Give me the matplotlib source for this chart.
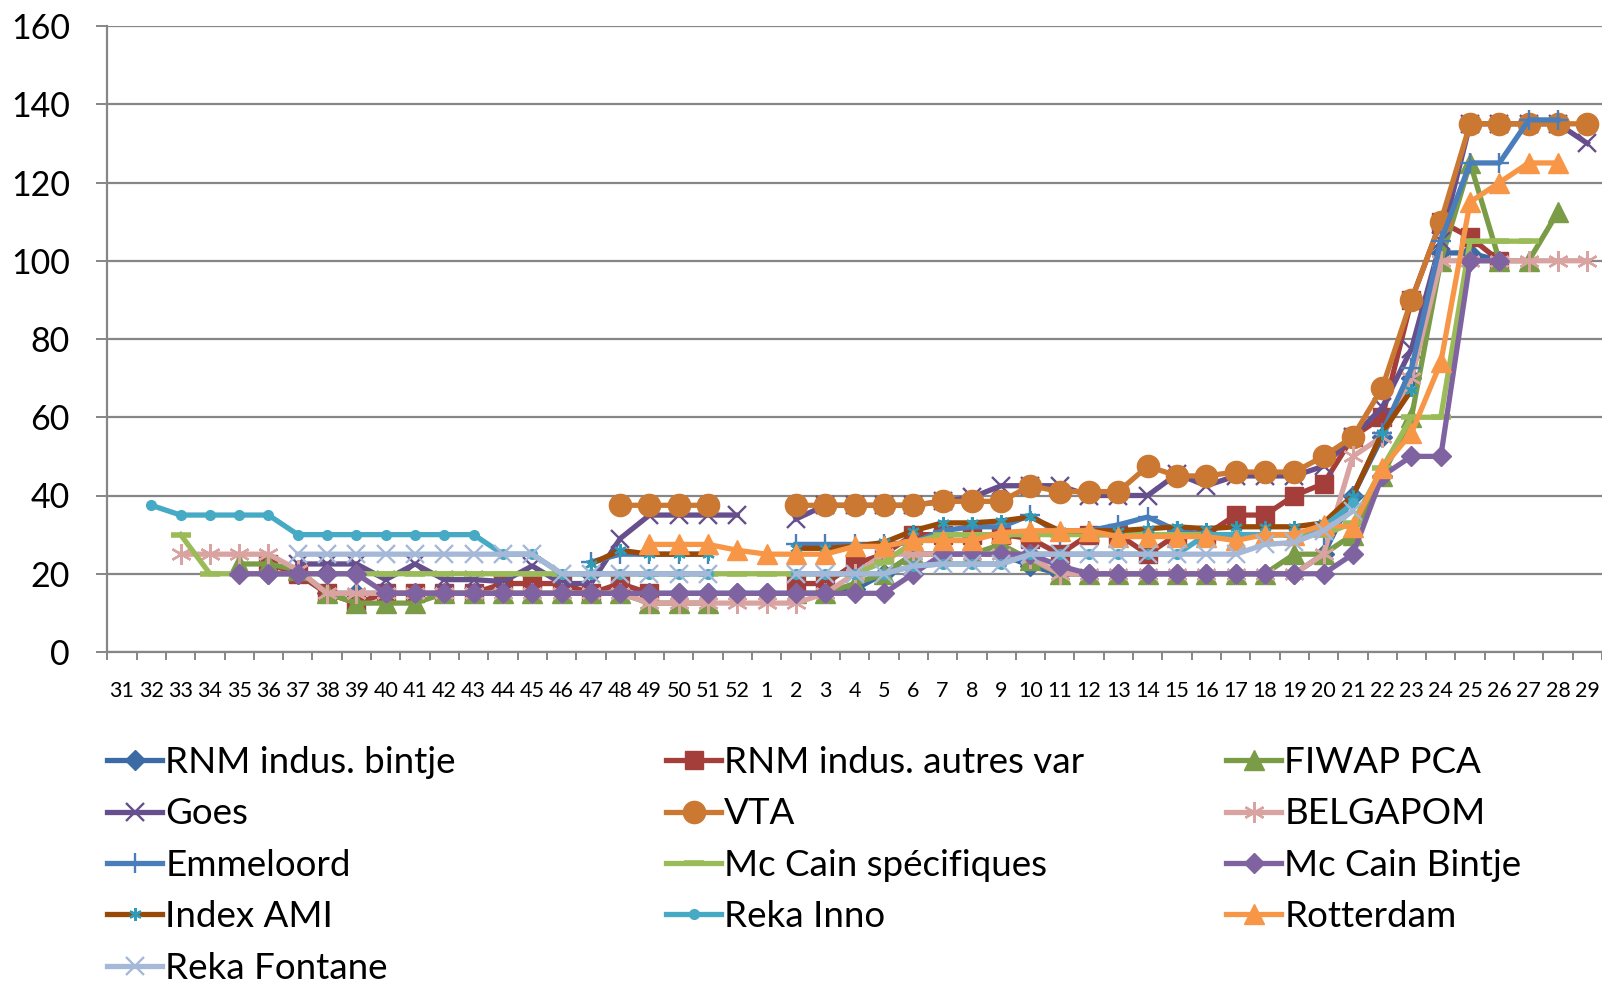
import numpy as np
import matplotlib
matplotlib.use("Agg")
import matplotlib.pyplot as plt

plt.rcParams["font.family"] = ["Lato", "DejaVu Sans"]

# ========= data =========
N = None
WEEKS = ["31", "32", "33", "34", "35", "36", "37", "38", "39", "40", "41", "42",
         "43", "44", "45", "46", "47", "48", "49", "50", "51", "52",
         "1", "2", "3", "4", "5", "6", "7", "8", "9", "10", "11", "12", "13",
         "14", "15", "16", "17", "18", "19", "20", "21", "22", "23", "24", "25",
         "26", "27", "28", "29"]

RNM_BINTJE = [N, N, N, N, N, 20, 20, 15, 15, 15,
              15, 15, 15, 15, 15, 15, 15, 15, 15, 15,
              15, 15, 15, 15, 15, 16, 20, 25, 25, 25,
              25, 22, 20, 20, 20, 20, 20, 20, 20, 20,
              20, 25, 40, 55, 70, 102, 102, 100, N, N, N]
RNM_AUTRES = [N, N, N, N, N, 22.5, 20, 15, 12.5, 15,
              15, 15, 15, 17.5, 17.5, 17.5, 15, 17.5, 15, N,
              N, N, N, 17.5, 17.5, 22.5, 25, 30, 30, 30,
              30, 29, 25, 30, 30, 25, 30, 30, 35, 35,
              40, 43, 55, 60, 90, 110, 106, 100, N, N, N]
FIWAP = [N, N, N, N, 22.5, 22.5, 21, 15, 12.5, 12.5,
         12.5, 15, 15, 15, 15, 15, 15, 15, 12.5, 12.5,
         12.5, N, N, 15, 15, 17.5, 20, 25, 25, 25,
         27.5, 23.5, 20, 20, 20, 20, 20, 20, 20, 20,
         25, 25, 30, 45, 60, 100, 125, 100, 100, 112.5, N]
GOES = [N, N, N, N, N, N, 22.5, 22.5, 22.5, 18.5,
        22.5, 18.5, 18.5, 18, 22, 17.5, 17.5, 29, 35, 35,
        35, 35, N, 34, 37.5, 37.5, 37.5, 37.5, 38.5, 39.5,
        42.5, 42.5, 42.5, 40, 40, 40, 45.5, 42.5, 45, 45,
        45, 47.5, 55, 62.5, 77.5, 105, 135, 135, 135, 135, 130]
VTA = [N, N, N, N, N, N, N, N, N, N,
       N, N, N, N, N, N, N, 37.5, 37.5, 37.5,
       37.5, N, N, 37.5, 37.5, 37.5, 37.5, 37.5, 38.5, 38.5,
       38.5, 42.5, 41, 41, 41, 47.5, 45, 45, 46, 46,
       46, 50, 55, 67.5, 90, 110, 135, 135, 135, 135, 135]
BELGAPOM = [N, N, 25, 25, 25, 25, 21, 15, 15, 15,
            15, 15, 15, 15, 15, 15, 15, 15, 12.5, 12.5,
            12.5, 12.5, 12.5, 12.5, 15, 20, 25, 25, 25, 25,
            25, 24, 20, 20, 20, 20, 20, 20, 20, 20,
            20, 25, 50, 55, 70, 100, 100, 100, 100, 100, 100]
EMMELOORD = [N, N, N, N, N, N, N, N, N, N,
             N, N, N, N, N, N, 23, 25, 25, 25,
             25, N, N, 27.5, 27.5, 27.5, 27.5, 28, 31, 32,
             32, 35, 30, 31, 32.5, 34.5, 31, 30, 30, 30,
             30, 30, 40, 56, 72.5, 105, 125, 125, 136, 136, N]
MCCAIN_SPEC = [N, N, 30, 20, 20, 20, 20, 20, 20, 20,
               20, 20, 20, 20, 20, 20, 20, 20, 20, 20,
               20, 20, 20, 20, 20, 20, 23, 28, 30, 30,
               30, 30, 30, 30, 30, 30, 30, 30, 30, 30,
               30, 30, 33, 47, 60, 60, 105, 105, 105, N, N]
MCCAIN_BINTJE = [N, N, N, N, 20, 20, 20, 20, 20, 15,
                 15, 15, 15, 15, 15, 15, 15, 15, 15, 15,
                 15, 15, 15, 15, 15, 15, 15, 20, 25, 25,
                 25, 25, 22, 20, 20, 20, 20, 20, 20, 20,
                 20, 20, 25, 45, 50, 50, 100, 100, N, N, N]
INDEX_AMI = [N, N, N, N, N, N, N, N, N, N,
             N, N, N, N, N, N, 22.5, 26, 25, 25,
             25, N, N, 26.5, 26.5, 27, 28, 31, 33, 33,
             33.5, 34.5, 31, 31, 31, 31.5, 32, 31.5, 32, 32,
             32, 33, 40, 56, 67, N, N, N, N, N, N]
REKA_INNO = [N, 37.5, 35, 35, 35, 35, 30, 30, 30, 30,
             30, 30, 30, 25, 25, 20, 20, 20, 20, 20,
             20, N, N, 20, 20, 20, 20, 22, 22.5, 22.5,
             22.5, 25, 25, 25, 25, 25, 25, 30, 30, 30,
             30, 32, 38, N, N, N, N, N, N, N, N]
ROTTERDAM = [N, N, N, N, N, N, N, N, N, N,
             N, N, N, N, N, N, N, N, 27.5, 27.5,
             27.5, 26, 25, 25, 25, 27, 27, 28.5, 28.5, 28.5,
             30.5, 31, 31, 31, 29.5, 29.5, 29.5, 29.5, 28.5, 30,
             30, 32.5, 32, 47, 56, 74, 115, 120, 125, 125, N]
REKA_FONTANE = [N, N, N, N, N, N, 25, 25, 25, 25,
                25, 25, 25, 25, 25, 20, 20, 20, 20, 20,
                20, N, N, 20, 20, 20, 20, 22, 22.5, 22.5,
                22.5, 25, 25, 25, 25, 25, 25, 25, 25, 27.5,
                28, 31, 36, N, N, N, N, N, N, N, N]

ASTERISK = (6, 2, 0)

series = [
    ("RNM indus. bintje", RNM_BINTJE, dict(color="#3C6AA5", marker="D", ms=10)),
    ("RNM indus. autres var", RNM_AUTRES, dict(color="#A33E3B", marker="s", ms=13)),
    ("FIWAP PCA", FIWAP, dict(color="#7B9C46", marker="^", ms=15)),
    ("Goes", GOES, dict(color="#664F8C", marker="x", ms=13, mew=1.7)),
    ("VTA", VTA, dict(color="#CB7832", marker="o", ms=16)),
    ("BELGAPOM", BELGAPOM, dict(color="#D9A3A1", marker=ASTERISK, ms=15, mew=1.7)),
    ("Emmeloord", EMMELOORD, dict(color="#4A7EBB", marker="+", ms=15, mew=1.7)),
    ("Mc Cain spécifiques", MCCAIN_SPEC, dict(color="#9BBB59", marker="_", ms=15, mew=4)),
    ("Mc Cain Bintje", MCCAIN_BINTJE, dict(color="#7F63A1", marker="D", ms=10)),
    ("Index AMI", INDEX_AMI, dict(color="#984807", marker=ASTERISK, ms=9, mew=1.7,
                                  mec="#2E9BB8", mfc="#2E9BB8")),
    ("Reka Inno", REKA_INNO, dict(color="#46AAC5", marker="o", ms=7)),
    ("Rotterdam", ROTTERDAM, dict(color="#F79646", marker="^", ms=15)),
    ("Reka Fontane", REKA_FONTANE, dict(color="#A5B8D7", marker="x", ms=13, mew=1.7)),
]

# ========= figure =========
W, H = 1602, 990
fig = plt.figure(figsize=(W / 100, H / 100), dpi=100)
ax = fig.add_axes([107.3 / W, 1 - 652 / H, 1 - 107.3 / W, (652 - 26) / H])

x = np.arange(len(WEEKS))
lines = []
for label, vals, st in series:
    y = np.array([np.nan if v is None else v for v in vals], dtype=float)
    ln, = ax.plot(x, y, lw=3.8, label=label, solid_joinstyle="round", **st)
    lines.append(ln)

grid_c = "#868686"
ax.set_xlim(-0.5, len(WEEKS) - 0.5)
ax.set_ylim(0, 160)
ax.set_yticks(range(0, 161, 20))
ax.yaxis.grid(True, color=grid_c, lw=1.6)
ax.set_axisbelow(True)

ax.set_xticks(x)
ax.set_xticklabels(WEEKS, fontsize=15.5)
ax.set_xticks(np.arange(-0.5, len(WEEKS), 1), minor=True)
ax.tick_params(axis="x", which="major", length=0, pad=21)
ax.tick_params(axis="x", which="minor", length=6, width=1.4, color=grid_c, direction="out")
ax.tick_params(axis="y", length=8, width=1.4, color=grid_c, direction="out",
               labelsize=24.5, pad=19)

for s in ["top", "right"]:
    ax.spines[s].set_visible(False)
for s in ["left", "bottom"]:
    ax.spines[s].set_color(grid_c)
    ax.spines[s].set_linewidth(1.6)

# ========= legend: 3 columns, row-major like Excel =========
col_x = [107 / W, 666 / W, 1226 / W]
labels = [s[0] for s in series]
for c in range(3):
    idx = list(range(c, len(lines), 3))
    fig.legend([lines[i] for i in idx], [labels[i] for i in idx],
               loc="upper left", bbox_to_anchor=(col_x[c], 1 - 746 / H),
               frameon=False, fontsize=26.5, handlelength=1.5, handletextpad=0.08,
               labelspacing=0.5, borderpad=0, borderaxespad=0)

fig.savefig("out.png", dpi=100, facecolor="white")
